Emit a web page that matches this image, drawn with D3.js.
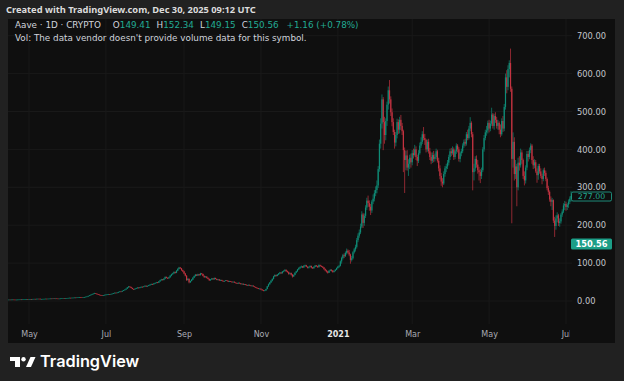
<!DOCTYPE html>
<html>
<head>
<meta charset="utf-8">
<script src="https://cdn.jsdelivr.net/npm/d3@7"></script>
<style>
  body { margin: 0; background: #212121; }
  #box { width: 624px; height: 381px; }
</style>
</head>
<body>
<div id="box"></div>
<script>
// daily candles [high, low, close], open is the close of the day before
var apr2020 = [[3.7,3.4,3.6],[3.9,3.5,3.8],[3.9,3.6,3.7],[4.0,3.6,3.9],[4.1,3.8,4.0],[4.1,3.7,3.8],[3.9,3.5,3.6],[3.8,3.5,3.7],[4.0,3.6,3.9],[4.2,3.8,4.1],[4.4,4.0,4.3],[4.4,4.1,4.2],[4.5,4.1,4.4],[4.7,4.3,4.5],[4.8,4.4,4.6],[4.9,4.5,4.8],[4.9,4.6,4.7]];
var may2020 = [[5.1,4.6,5.0],[5.4,4.9,5.3],[5.4,5.0,5.1],[5.5,5.0,5.4],[5.7,5.3,5.6],[5.8,5.4,5.5],[5.9,5.4,5.8],[6.2,5.7,6.0],[6.1,5.7,5.9],[6.0,5.0,5.2],[5.5,5.1,5.4],[5.7,5.3,5.6],[5.9,5.5,5.8],[6.2,5.7,6.1],[6.2,5.9,6.0],[6.3,5.9,6.2],[6.5,6.1,6.4],[6.7,6.3,6.6],[6.7,6.4,6.5],[7.0,6.4,6.9],[7.0,6.6,6.7],[6.9,6.6,6.8],[6.9,6.5,6.6],[6.7,6.2,6.3],[6.6,6.2,6.5],[6.9,6.4,6.8],[7.2,6.7,7.1],[7.5,7.0,7.4],[7.5,7.1,7.2],[7.7,7.1,7.6],[7.9,7.5,7.8]];
var jun2020 = [[8.3,7.7,8.1],[8.7,8.0,8.5],[8.6,8.2,8.3],[8.8,8.2,8.7],[9.1,8.6,8.9],[9.4,8.8,9.2],[9.3,8.9,9.0],[9.7,8.9,9.5],[10.0,9.4,9.8],[10.5,9.7,10.2],[10.4,9.8,10.0],[10.1,9.4,9.6],[10.3,9.5,10.1],[10.8,10.0,10.6],[11.5,10.4,11.2],[12.3,11.0,12.0],[13.9,11.8,13.5],[15.3,13.2,14.8],[17.0,14.6,16.5],[18.8,16.2,18.2],[20.1,17.9,19.5],[21.6,19.1,20.8],[21.0,18.8,19.2],[19.6,17.2,17.6],[18.1,16.4,16.8],[17.2,15.5,15.9],[16.3,14.8,15.2],[15.6,14.1,14.6],[15.8,14.4,15.5],[16.6,15.2,16.3]];
var jul2020 = [[17.3,16.0,16.9],[17.9,16.6,17.5],[18.6,17.2,18.2],[18.5,17.4,17.8],[18.9,17.5,18.6],[19.8,18.3,19.4],[21.0,19.1,20.5],[22.4,20.2,21.8],[22.3,20.8,21.2],[22.9,20.9,22.4],[24.5,22.0,23.9],[25.8,23.5,25.1],[25.6,24.1,24.6],[27.4,24.3,26.8],[29.1,26.2,28.4],[30.9,27.9,30.1],[33.4,29.6,32.5],[36.8,32.0,35.8],[39.5,35.1,38.2],[39.0,36.2,37.1],[37.6,33.8,34.5],[35.0,30.9,31.8],[32.5,29.8,30.6],[32.9,30.1,32.2],[34.6,31.6,33.9],[36.2,33.2,35.4],[35.9,33.5,34.1],[36.9,33.6,36.2],[38.3,35.5,37.5],[38.1,36.1,36.8],[39.2,36.3,38.4]];
var aug2020 = [[41.2,37.9,40.1],[41.0,37.2,38.5],[40.6,37.9,39.8],[42.5,39.1,41.6],[44.1,40.8,43.2],[45.9,42.6,44.8],[45.6,43.1,43.9],[47.1,43.2,46.2],[48.6,45.4,47.5],[50.3,46.8,49.1],[50.2,47.1,48.2],[52.8,47.6,51.6],[56.1,50.9,54.8],[58.4,53.8,56.9],[57.8,54.1,55.2],[60.2,54.6,58.9],[65.1,57.8,63.4],[64.6,59.9,61.1],[62.4,58.2,59.8],[63.9,58.8,62.5],[68.4,61.6,66.9],[72.1,65.4,70.4],[74.5,69.1,72.8],[78.2,71.4,76.5],[77.8,72.6,74.2],[81.6,73.5,79.8],[86.4,78.6,84.6],[90.1,83.2,88.2],[89.8,84.5,86.1],[87.2,79.6,81.4],[82.6,76.1,78.2]];
var sep2020 = [[79.5,70.8,72.5],[74.1,64.9,66.8],[68.2,52.9,55.4],[60.1,53.8,58.6],[59.4,46.5,49.2],[54.1,47.8,52.8],[57.9,51.6,56.4],[62.8,55.4,61.5],[67.2,60.1,65.8],[71.1,64.2,69.4],[70.6,65.8,67.2],[71.9,66.1,70.5],[71.2,66.9,68.1],[74.3,67.4,72.9],[73.8,69.6,71.4],[72.1,65.2,66.2],[67.4,61.3,62.8],[65.9,61.8,64.5],[65.2,59.6,61.2],[62.1,57.1,58.4],[59.2,53.1,54.6],[57.6,53.4,56.8],[60.8,55.9,59.5],[60.2,56.1,57.2],[61.9,56.4,60.8],[61.5,57.2,58.1],[59.0,54.8,55.7],[57.8,54.6,56.9],[57.6,53.5,54.2],[56.4,53.1,55.5]];
var oct2020 = [[56.2,52.4,53.1],[54.0,50.9,51.8],[53.6,51.2,52.9],[55.3,52.1,54.6],[55.1,52.6,53.2],[53.8,49.9,50.8],[53.1,50.2,52.4],[52.9,50.6,51.1],[51.6,48.8,49.5],[51.4,48.9,50.9],[51.2,48.1,48.7],[49.3,46.6,47.2],[47.8,45.1,45.9],[48.9,45.3,48.1],[48.6,46.2,46.8],[47.1,43.8,44.5],[46.2,43.9,45.6],[45.9,42.7,43.2],[45.1,42.6,44.4],[44.6,41.5,42.1],[42.8,40.1,40.8],[43.4,40.2,42.6],[43.1,40.7,41.2],[41.6,38.9,39.5],[41.2,38.8,40.6],[40.8,37.9,38.4],[38.9,36.2,36.9],[37.2,34.1,34.8],[35.4,32.9,33.5],[33.9,31.2,31.9],[33.4,31.1,32.6]];
var nov2020 = [[33.1,29.6,30.4],[31.2,27.5,28.1],[29.4,25.8,26.9],[28.9,26.2,27.8],[32.4,27.1,31.5],[39.8,30.9,38.6],[45.9,37.4,44.2],[50.2,42.8,48.9],[55.1,47.6,53.6],[59.8,51.9,58.2],[66.4,56.8,64.9],[70.2,63.1,68.5],[69.4,64.2,66.1],[71.2,65.3,69.8],[73.9,68.1,72.4],[76.8,70.6,75.1],[76.2,71.4,73.2],[79.1,72.5,77.6],[81.2,75.8,79.5],[83.9,78.1,82.1],[83.4,76.9,78.4],[80.2,74.6,76.1],[77.8,69.4,71.5],[75.2,69.8,73.8],[75.1,67.2,69.2],[71.4,61.8,64.8],[69.8,63.4,68.9],[75.9,67.8,74.5],[79.8,73.1,78.6],[84.6,76.9,83.2]];
var dec2020 = [[88.9,82.1,86.5],[91.2,84.6,89.1],[93.6,87.4,91.4],[92.1,86.9,88.6],[94.5,87.2,92.8],[96.1,90.8,94.2],[95.4,89.2,90.5],[91.6,85.9,87.8],[91.4,85.6,89.9],[94.1,88.6,92.6],[93.2,86.1,88.4],[89.6,84.8,86.2],[91.5,85.4,90.1],[95.2,89.1,93.5],[94.8,90.2,91.8],[93.1,87.6,89.2],[96.8,88.4,94.6],[95.9,90.6,92.4],[93.8,89.4,90.8],[91.9,87.1,88.5],[89.6,82.4,84.2],[85.8,78.2,80.6],[82.4,75.1,77.9],[79.6,72.3,74.5],[80.9,73.8,79.8],[84.1,78.6,82.4],[83.6,77.9,80.1],[81.8,74.6,76.8],[80.6,75.2,79.2],[84.2,78.1,82.5],[88.3,81.4,86.9]];
var jan2021 = [[92.6,85.1,90.4],[95.4,87.8,92.8],[107.1,91.2,104.5],[116.8,98.6,113.2],[124.3,109.5,120.8],[125.6,113.2,118.4],[130.8,116.1,126.9],[138.4,122.5,132.5],[136.1,124.8,128.1],[134.6,118.2,122.6],[124.9,98.4,108.4],[118.6,104.2,112.8],[131.4,109.6,128.5],[140.2,125.1,136.2],[148.6,130.5,142.8],[166.2,138.4,160.5],[178.5,155.2,172.4],[188.6,166.8,180.9],[204.2,176.5,196.5],[236.8,192.1,228.4],[232.5,192.6,206.2],[230.9,198.4,224.8],[252.6,218.9,246.5],[272.4,240.2,264.8],[278.1,248.6,258.2],[265.4,238.2,248.6],[256.1,226.8,238.9],[266.9,232.5,262.4],[281.2,255.6,270.1],[292.4,262.8,284.5],[302.6,276.4,292.8]];
var feb2021 = [[318,284,305],[356,298,348],[426,341,415],[482,402,468],[545,455,532],[538,398,472],[486,415,438],[482,424,475],[526,462,518],[566,505,556],[583,521,532],[540,488,498],[508,461,472],[482,438,446],[452,402,418],[446,408,438],[481,429,472],[479,441,452],[486,442,478],[491,451,462],[470,438,448],[452,340,398],[405,285,372],[396,345,384],[398,344,352],[374,330,362],[386,348,378],[389,352,366]];
var mar2021 = [[398,358,390],[402,376,385],[412,381,400],[408,372,380],[386,356,370],[398,364,390],[418,386,410],[432,404,420],[448,414,440],[459,424,430],[441,412,425],[428,392,400],[426,394,420],[428,389,395],[404,372,380],[392,361,370],[392,364,385],[396,366,375],[389,368,380],[402,374,395],[399,365,370],[378,342,350],[358,321,330],[338,304,315],[324,300,310],[342,306,335],[356,328,350],[362,340,355],[372,348,365],[386,358,380],[402,372,395]];
var apr2021 = [[404,382,390],[408,386,400],[405,372,380],[399,374,395],[416,388,410],[414,392,400],[406,368,375],[394,366,390],[402,382,395],[416,390,410],[426,404,420],[428,408,415],[446,410,440],[452,424,430],[462,426,455],[485,448,470],[474,432,440],[446,292,340],[362,318,350],[382,342,375],[384,352,360],[372,336,345],[354,318,340],[348,311,330],[352,322,345],[406,340,400],[438,394,430],[452,424,445],[462,436,450],[476,442,470]];
var may2021 = [[478,445,455],[476,448,468],[510,462,492],[496,455,462],[494,452,488],[498,470,478],[486,455,462],[478,452,470],[474,440,452],[466,432,440],[482,436,475],[488,446,455],[520,448,512],[600,505,590],[609,548,565],[622,556,612],[635,590,628],[666,552,560],[566,205,375],[445,352,420],[432,318,335],[372,322,355],[362,250,300],[378,292,365],[382,344,358],[402,352,392],[398,362,372],[376,322,330],[342,305,318],[358,310,352],[396,345,388]];
var jun2021 = [[396,368,380],[405,374,398],[416,390,410],[414,362,372],[382,348,358],[374,350,366],[372,338,342],[350,312,332],[362,320,356],[362,336,342],[350,324,330],[336,308,322],[350,316,345],[352,330,338],[344,316,322],[326,292,298],[304,280,288],[292,262,268],[276,250,262],[272,240,266],[268,206,212],[222,169,198],[226,188,218],[234,208,226],[230,198,206],[218,196,210],[232,204,228],[242,222,236],[258,232,252],[264,240,256]];
var jul2021 = [[262,238,248],[258,240,254],[268,246,262],[276,256,270],[290,262,277]];

var firstDay = new Date(Date.UTC(2020, 3, 14));
var firstOpen = 3.5;

// time axis
var monthTicks = [
    new Date(Date.UTC(2020, 4, 1)), new Date(Date.UTC(2020, 6, 1)),
    new Date(Date.UTC(2020, 8, 1)), new Date(Date.UTC(2020, 10, 1)),
    new Date(Date.UTC(2021, 0, 1)), new Date(Date.UTC(2021, 2, 1)),
    new Date(Date.UTC(2021, 4, 1)), new Date(Date.UTC(2021, 6, 1))
];
var monthLabels = ["May", "Jul", "Sep", "Nov", "2021", "Mar", "May", "Jul"];
var priceTicks = [0, 100, 200, 300, 400, 500, 600, 700];

// header texts
var createdText = "Created with TradingView.com, Dec 30, 2025 09:12 UTC";
var symbolText = "Aave · 1D · CRYPTO";
var ohlcNames = ["O", "H", "L", "C"];
var ohlcValues = ["149.41", "152.34", "149.15", "150.56"];
var changeText = "+1.16 (+0.78%)";
var volText = "Vol: The data vendor doesn't provide volume data for this symbol.";
var lastPrice = 150.56;
var markPrice = 277.00;

var upColor = "#0f8c77";
var downColor = "#c43341";
var teal = "#22ab94";
var uiFont = "DejaVu Sans, sans-serif";

// build the candle list
var months = [apr2020, may2020, jun2020, jul2020, aug2020, sep2020, oct2020, nov2020,
              dec2020, jan2021, feb2021, mar2021, apr2021, may2021, jun2021, jul2021];
var candles = [];
var prevClose = firstOpen;
months.forEach(function(m) {
    m.forEach(function(c) {
        candles.push({
            date: d3.utcDay.offset(firstDay, candles.length),
            open: prevClose, high: c[0], low: c[1], close: c[2]
        });
        prevClose = c[2];
    });
});

var svg = d3.select("#box")
    .append("svg")
    .attr("width", 624)
    .attr("height", 381);

// outer background + chart panel
svg.append("rect").attr("width", 624).attr("height", 381).attr("fill", "#212121");
svg.append("rect")
    .attr("x", 8).attr("y", 19)
    .attr("width", 607).attr("height", 324)
    .attr("fill", "#0f0f0f");

var x = d3.scaleUtc()
    .domain([monthTicks[0], monthTicks[7]])
    .range([29, 566]);
var y = d3.scaleLinear()
    .domain([0, 700])
    .range([301, 35.7]);

var plotLeft = 8, plotRight = 572.5, plotTop = 19, plotBottom = 324;

svg.append("clipPath").attr("id", "plotClip")
    .append("rect")
    .attr("x", plotLeft).attr("y", plotTop)
    .attr("width", plotRight - plotLeft).attr("height", 381 - plotTop);

// time labels get cut a bit earlier, like the "Ju" at the right edge
svg.append("clipPath").attr("id", "timeClip")
    .append("rect")
    .attr("x", plotLeft).attr("y", plotTop)
    .attr("width", 569.6 - plotLeft).attr("height", 381 - plotTop);

// grid
var grid = svg.append("g").attr("clip-path", "url(#plotClip)");
grid.selectAll(".hgrid")
    .data(priceTicks)
    .enter()
    .append("line")
    .attr("x1", plotLeft).attr("x2", plotRight)
    .attr("y1", function(d) { return y(d); })
    .attr("y2", function(d) { return y(d); })
    .attr("stroke", "#191919");
grid.selectAll(".vgrid")
    .data(monthTicks)
    .enter()
    .append("line")
    .attr("x1", function(d) { return x(d); })
    .attr("x2", function(d) { return x(d); })
    .attr("y1", plotTop).attr("y2", plotBottom)
    .attr("stroke", "#191919");

// candles
var candleG = svg.append("g").attr("clip-path", "url(#plotClip)");
function candleColor(d) { return d.close >= d.open ? upColor : downColor; }

candleG.selectAll(".wick")
    .data(candles)
    .enter()
    .append("line")
    .attr("x1", function(d) { return x(d.date); })
    .attr("x2", function(d) { return x(d.date); })
    .attr("y1", function(d) { return y(d.high); })
    .attr("y2", function(d) { return y(d.low); })
    .attr("stroke", candleColor)
    .attr("stroke-width", 0.7);

candleG.selectAll(".body")
    .data(candles)
    .enter()
    .append("rect")
    .attr("x", function(d) { return x(d.date) - 0.6; })
    .attr("width", 1.2)
    .attr("y", function(d) { return y(Math.max(d.open, d.close)); })
    .attr("height", function(d) { return Math.max(0.7, Math.abs(y(d.open) - y(d.close))); })
    .attr("fill", candleColor);

// time axis (clip in an outer group so the clip box is not shifted)
var xAxis = d3.axisBottom(x)
    .tickValues(monthTicks)
    .tickSize(0)
    .tickPadding(0)
    .tickFormat(function(d, i) { return monthLabels[i]; });

var xAxisG = svg.append("g")
    .attr("clip-path", "url(#timeClip)")
    .append("g")
    .attr("transform", "translate(0,331)")
    .call(xAxis);
xAxisG.select(".domain").remove();
xAxisG.selectAll("text")
    .attr("font-family", uiFont)
    .attr("font-size", 8)
    .attr("fill", function(d, i) { return monthLabels[i] === "2021" ? "#e6e6e6" : "#a9acb4"; })
    .attr("font-weight", function(d, i) { return monthLabels[i] === "2021" ? 700 : 400; });

// price axis
var yAxis = d3.axisRight(y)
    .tickValues(priceTicks)
    .tickSize(0)
    .tickPadding(0)
    .tickFormat(d3.format(".2f"));

var yAxisG = svg.append("g")
    .attr("transform", "translate(577,0)")
    .call(yAxis);
yAxisG.select(".domain").remove();
yAxisG.selectAll("text")
    .attr("font-family", uiFont)
    .attr("font-size", 8.3)
    .attr("fill", "#c2c4ca");

// price labels on the scale
var markG = svg.append("g");
markG.append("rect")
    .attr("x", 571.5).attr("y", y(markPrice) - 4)
    .attr("width", 40).attr("height", 9)
    .attr("rx", 1.5)
    .attr("fill", "#0f0f0f")
    .attr("stroke", teal)
    .attr("stroke-width", 0.8);
markG.append("text")
    .attr("x", 591.5).attr("y", y(markPrice) + 0.5)
    .attr("dy", "0.35em")
    .attr("text-anchor", "middle")
    .attr("font-family", uiFont)
    .attr("font-size", 7.8)
    .attr("fill", teal)
    .text(d3.format(".2f")(markPrice));

var lastG = svg.append("g");
lastG.append("rect")
    .attr("x", 571).attr("y", y(lastPrice) - 5.5)
    .attr("width", 41).attr("height", 11)
    .attr("rx", 1.5)
    .attr("fill", "#1c9e87");
lastG.append("text")
    .attr("x", 591.5).attr("y", y(lastPrice))
    .attr("dy", "0.35em")
    .attr("text-anchor", "middle")
    .attr("font-family", uiFont)
    .attr("font-size", 8.3)
    .attr("font-weight", 700)
    .attr("fill", "#ffffff")
    .text(d3.format(".2f")(lastPrice));

// header
svg.append("text")
    .attr("x", 6).attr("y", 12.5)
    .attr("font-family", "Noto Sans, sans-serif")
    .attr("font-size", 9.3)
    .attr("font-weight", 700)
    .attr("fill", "#dcdcdc")
    .text(createdText);

var legend = svg.append("text")
    .attr("x", 15).attr("y", 28)
    .attr("font-family", uiFont)
    .attr("font-size", 8.8)
    .attr("fill", "#d1d4dc");
legend.append("tspan").text(symbolText);
ohlcNames.forEach(function(n, i) {
    legend.append("tspan").attr("dx", i === 0 ? 12 : 6).text(n);
    legend.append("tspan").attr("fill", teal).text(ohlcValues[i]);
});
legend.append("tspan").attr("dx", 8).attr("fill", teal).text(changeText);

svg.append("text")
    .attr("x", 15).attr("y", 41)
    .attr("font-family", uiFont)
    .attr("font-size", 8.8)
    .attr("fill", "#d1d4dc")
    .text(volText);

// TradingView logo
var logo = svg.append("g").attr("fill", "#ffffff");
logo.append("path").attr("d", "M10,357 h10 v10 h-5 v-6 h-5 z");
logo.append("circle").attr("cx", 23.5).attr("cy", 359.2).attr("r", 2.2);
logo.append("path").attr("d", "M26,367 L30.5,357 H35.5 L31,367 Z");
logo.append("text")
    .attr("x", 40).attr("y", 367)
    .attr("font-family", "Inter, sans-serif")
    .attr("font-size", 16.3)
    .attr("font-weight", 600)
    .attr("fill", "#ffffff")
    .text("TradingView");
</script>
</body>
</html>
